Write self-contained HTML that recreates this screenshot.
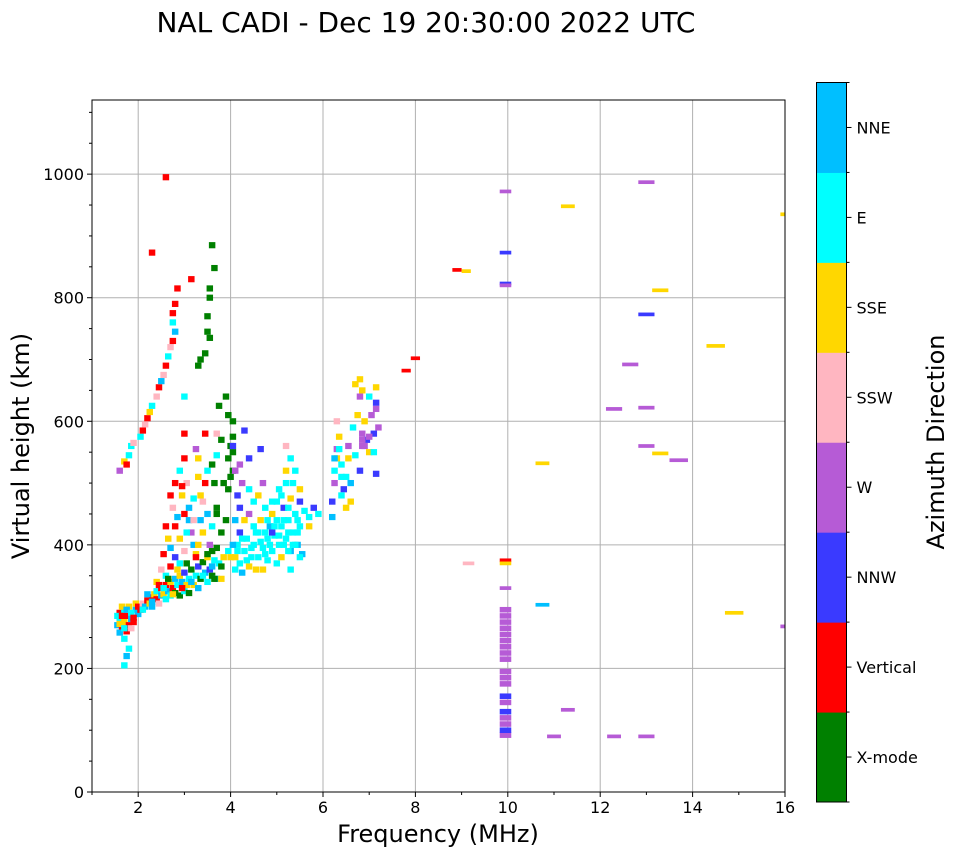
<!DOCTYPE html>
<html><head><meta charset="utf-8"><style>
body{margin:0;background:#fff;}
svg text{font-family:"DejaVu Sans","Liberation Sans",sans-serif;fill:#000;}
</style></head><body>
<svg id="c" width="958" height="857" xmlns="http://www.w3.org/2000/svg">
<text x="426" y="32" font-size="28" text-anchor="middle">NAL CADI - Dec 19 20:30:00 2022 UTC</text>
<g id="grid"></g><g id="marks"></g><g id="axes"></g><g id="cbar"></g>
<text x="438" y="842" font-size="24" text-anchor="middle">Frequency (MHz)</text>
<text transform="translate(29,446) rotate(-90)" font-size="24" text-anchor="middle">Virtual height (km)</text>
<text transform="translate(944,442) rotate(-90)" font-size="24" text-anchor="middle">Azimuth Direction</text>
</svg>
<script>
const directions=["X-mode","Vertical","NNW","W","SSW","SSE","E","NNE"];
const dirColors=["#008000","#ff0000","#3a3aff","#b65bd6","#ffb6c1","#ffd700","#00ffff","#00bfff"];
const xTicks=[2,4,6,8,10,12,14,16];
const yTicks=[0,200,400,600,800,1000];
// [frequency MHz, virtual height km, direction index, optional width MHz]
const echoes=[
[1.55,270,7],[1.6,280,6],[1.6,290,1],[1.65,265,1],[1.7,275,5],[1.7,295,6],[1.75,285,1],[1.8,270,1],[1.8,300,5],[1.85,280,7],[1.9,290,4],[1.9,275,1],[1.95,295,7],[1.65,300,5],[1.55,285,6],[1.75,260,1],[1.85,265,4],[1.6,258,7],[1.7,248,6],[1.8,232,6],[1.75,220,7],[1.7,205,6],[1.95,305,5],[2.0,300,1],[2.0,288,7],[2.05,295,1],[2.1,305,4],[2.15,300,7],[2.2,310,1],[2.25,305,5],[2.3,315,1],[2.3,300,7],[2.35,320,5],[2.4,312,1],[2.4,325,6],[2.45,305,4],[2.5,318,7],[2.5,330,1],[2.55,320,5],[2.6,335,1],[2.6,312,6],[2.65,325,7],[2.7,340,5],[2.7,318,6],[2.75,330,1],[2.8,345,7],[2.8,322,0],[2.85,335,6],[2.9,350,5],[2.9,318,0],[2.95,340,7],[3.0,325,6],[3.0,355,2],[3.05,335,5],[3.1,345,6],[3.1,322,0],[3.15,360,0],[3.2,335,5],[3.25,350,6],[3.3,330,7],[3.3,365,2],[3.35,345,0],[3.4,372,0],[3.45,355,7],[3.5,340,6],[3.5,380,5],[3.55,360,2],[3.6,350,0],[3.65,375,6],[3.7,345,7],[3.6,390,0],
[2.2,320,7],[2.4,340,5],[2.6,350,6],[2.5,360,4],[2.7,365,1],[2.8,380,2],[2.9,370,6],[3.0,390,4],[3.2,400,7],[2.45,335,1],[2.65,345,0],[2.85,360,5],[3.05,370,0],[3.25,385,5],
[1.65,285,1],[1.75,295,7],[1.85,290,6],[1.6,272,5],[1.7,265,6],[1.9,282,1],[2.1,295,6],[2.3,308,7],[2.55,330,6],[2.75,320,5],[2.95,330,1],[3.15,340,7],[3.4,350,6],[3.6,365,7],[3.75,370,6],[3.85,380,5],[3.95,390,6],[3.8,345,5],
[1.6,520,3],[1.7,535,5],[1.75,530,1],[1.8,545,6],[1.85,560,6],[1.9,565,4],[2.05,575,6],[2.1,585,1],[2.15,595,4],[2.2,605,1],[2.25,615,5],[2.3,625,6],[2.4,640,4],[2.45,655,1],[2.5,665,7],[2.55,675,4],[2.6,690,1],[2.65,705,6],[2.7,720,4],[2.75,730,1],[2.8,745,7],[2.75,760,6],[2.75,775,1],[2.8,790,1],[2.85,815,1],[2.3,873,1],[2.6,995,1],[3.15,830,1],
[2.7,480,1],[2.75,460,4],[2.8,500,1],[2.85,445,7],[2.9,520,6],[2.95,480,5],[3.0,540,1],[3.0,580,1],[3.05,500,4],[3.1,460,7],[3.15,420,3],[3.2,475,6],[3.25,555,3],[3.3,510,5],[3.35,440,7],[3.4,470,4],[3.5,520,6],[3.45,580,1],[3.55,400,3],[3.6,430,6],[2.6,430,1],[2.65,410,5],[2.7,395,7],[2.55,385,1],[3.7,580,4],[3.7,545,6],[3.0,640,6],[3.3,400,5],[3.4,420,5],[3.25,380,1],[3.1,440,7],
[2.8,430,1],[2.9,410,5],[3.0,450,1],[3.05,420,6],[3.2,440,4],[3.35,480,5],[3.5,450,7],[3.45,500,1],[2.95,495,1],[3.3,540,5],
[3.6,885,0],[3.65,848,0],[3.55,815,0],[3.55,800,0],[3.5,770,0],[3.5,745,0],[3.55,735,0],[3.35,700,0],[3.45,710,0],[3.3,690,0],[3.9,640,0],[3.75,625,0],[3.95,610,0],[4.05,600,0],[4.0,560,0],[3.8,570,0],[3.95,540,0],[4.05,520,0],[3.85,500,0],[3.95,490,0],[3.7,460,0],[3.9,440,0],[3.8,420,0],[3.6,530,0],[4.05,575,0],[4.05,550,0],[4.0,510,0],[3.65,500,0],[3.7,450,0],[3.5,385,0],[3.7,395,0],[3.8,365,0],[3.65,345,0],
[4.1,360,6],[4.1,380,5],[4.15,400,6],[4.2,370,6],[4.2,420,2],[4.25,355,7],[4.3,390,6],[4.3,440,5],[4.35,410,6],[4.4,365,5],[4.4,450,3],[4.45,380,6],[4.5,400,6],[4.5,470,6],[4.55,360,5],[4.6,420,6],[4.6,380,6],[4.65,440,5],[4.7,395,6],[4.7,360,5],[4.75,460,6],[4.8,410,6],[4.8,375,6],[4.85,430,7],[4.9,390,6],[4.9,450,5],[4.95,415,6],[5.0,370,6],[5.0,470,6],[5.05,400,6],[5.1,430,6],[5.1,380,5],[5.15,460,2],[5.2,410,6],[5.2,500,6],[5.25,440,6],[5.3,390,7],[5.3,475,5],[5.35,420,6],[5.4,450,6],[5.4,520,6],[5.45,400,7],[5.5,430,6],[5.5,470,2],[5.55,385,7],[5.6,455,6],[5.7,445,6],[5.8,460,2],[5.9,450,6],[4.4,540,2],[4.2,530,3],[4.25,500,3],[4.1,520,3],[4.3,585,2],[4.05,560,2],[4.15,480,2],[4.2,460,2],[4.1,440,7],[4.4,490,6],[4.7,500,3],[5.2,560,4],[5.5,490,5],[5.05,490,6],[4.65,555,2],[5.2,520,5],[5.3,540,6],[4.0,380,5],[4.05,400,7],[4.6,480,5],[4.9,420,2],[5.3,360,6],[5.5,380,6],[5.7,430,5],[4.5,430,6],[4.75,420,6],[5.0,440,6],[5.15,400,6],[5.4,400,6],[5.45,440,6],
[4.15,390,6],[4.25,410,6],[4.35,375,6],[4.45,395,6],[4.55,420,6],[4.65,405,6],[4.75,385,6],[4.85,400,6],[4.95,430,6],[5.05,415,6],[5.15,440,6],[5.25,420,6],[5.35,400,6],[5.45,420,6],[5.25,460,6],[5.1,480,6],[4.9,470,6],[4.8,440,6],[5.35,500,6],[5.25,390,6],
[6.2,445,7],[6.2,470,2],[6.25,500,3],[6.25,520,6],[6.3,540,5],[6.3,555,3],[6.35,575,5],[6.4,530,6],[6.45,490,2],[6.5,510,6],[6.55,560,3],[6.6,470,5],[6.65,590,6],[6.7,545,6],[6.7,660,5],[6.75,610,5],[6.8,520,2],[6.8,640,3],[6.85,580,3],[6.85,650,5],[6.9,560,3],[6.9,600,5],[6.95,570,2],[7.0,550,5],[7.05,610,3],[7.1,580,2],[7.15,630,2],[7.15,655,5],[7.15,515,2],[7.1,550,6],[7.2,590,3],[6.5,460,5],[6.3,600,4],[6.6,500,7],[6.4,480,6],[7.0,640,6],[6.8,668,5],
[6.25,540,7],[6.35,555,6],[6.55,540,5],[6.85,560,3],[6.85,570,3],[7.0,575,3],[7.15,620,3],[6.4,510,6],
[8.9,845,1,0.2],[9.1,843,5,0.2],[8.0,702,1,0.2],[7.8,682,1,0.2],[10.75,532,5,0.3],[9.15,370,4,0.25],[9.95,375,1,0.25],[9.95,370,5,0.25],[10.75,303,7,0.3],[11.3,948,5,0.3],[13.0,987,3,0.35],[9.95,972,3,0.25],[9.95,873,2,0.25],[9.95,823,2,0.25],[9.95,820,3,0.25],[13.0,773,2,0.35],[13.3,812,5,0.35],[12.65,692,3,0.35],[12.3,620,3,0.35],[13.0,622,3,0.35],[13.0,560,3,0.35],[13.3,548,5,0.35],[13.7,537,3,0.4],[14.5,722,5,0.4],[14.9,290,5,0.4],[15.95,935,5,0.1],[15.95,268,3,0.1],[11.3,133,3,0.3],[11.0,90,3,0.3],[12.3,90,3,0.3],[13.0,90,3,0.35],[9.95,330,3,0.25],
[9.95,92,3,0.25],[9.95,100,2,0.25],[9.95,110,3,0.25],[9.95,120,3,0.25],[9.95,130,2,0.25],[9.95,145,3,0.25],[9.95,155,2,0.25],[9.95,175,3,0.25],[9.95,185,3,0.25],[9.95,195,3,0.25],[9.95,215,3,0.25],[9.95,225,3,0.25],[9.95,235,3,0.25],[9.95,245,3,0.25],[9.95,255,3,0.25],[9.95,265,3,0.25],[9.95,275,3,0.25],[9.95,285,3,0.25],[9.95,295,3,0.25]
];
const NS="http://www.w3.org/2000/svg";
const L=92,R=785,T=100,B=792;
const xS=f=>L+(f-1)*(R-L)/15;
const yS=h=>B-h*(B-T)/1120;
function mk(tag,attrs,parent){const e=document.createElementNS(NS,tag);for(const k in attrs)e.setAttribute(k,attrs[k]);parent.appendChild(e);return e;}
const grid=document.getElementById('grid'),marks=document.getElementById('marks'),axes=document.getElementById('axes'),cbar=document.getElementById('cbar');
xTicks.forEach(v=>{const g=mk('line',{x1:xS(v),x2:xS(v),y1:T,y2:B,stroke:'#b0b0b0','stroke-width':1},grid);

});
yTicks.forEach(v=>{const g=mk('line',{x1:L,x2:R,y1:yS(v),y2:yS(v),stroke:'#b0b0b0','stroke-width':1},grid);

});
echoes.forEach(p=>{const w=p[3]||0.14;const hh=p[3]?(p[0]===9.95&&p[1]<300?9:6):10;const r=mk('rect',{x:xS(p[0]-w/2),y:yS(p[1]+hh/2),width:(R-L)/15*w,height:yS(0)-yS(hh),fill:dirColors[p[2]]},marks);

});
const fr=mk('rect',{x:L,y:T,width:R-L,height:B-T,fill:'none',stroke:'#000','stroke-width':1},axes);


xTicks.forEach(v=>{mk('line',{x1:xS(v),x2:xS(v),y1:B,y2:B+5,stroke:'#000'},axes);
const t=mk('text',{x:xS(v),y:B+21,'font-size':16,'text-anchor':'middle'},axes);t.textContent=v;

});
for(let v=1;v<=15;v+=2)mk('line',{x1:xS(v),x2:xS(v),y1:B,y2:B+3,stroke:'#000'},axes);
yTicks.forEach(v=>{mk('line',{x1:L-5,x2:L,y1:yS(v),y2:yS(v),stroke:'#000'},axes);
const t=mk('text',{x:L-8,y:yS(v)+6,'font-size':16,'text-anchor':'end'},axes);t.textContent=v;

});
for(let v=50;v<=1100;v+=50)if(v%200)mk('line',{x1:L-3,x2:L,y1:yS(v),y2:yS(v),stroke:'#000'},axes);
const CT=82.5,CB=802,CL=816.5,CW=30,seg=(CB-CT)/directions.length;
directions.forEach((d,i)=>{const y0=CB-(i+1)*seg;
const r=mk('rect',{x:CL,y:y0,width:CW,height:seg+0.5,fill:dirColors[i]},cbar);


mk('line',{x1:CL+CW,x2:CL+CW+5,y1:y0+seg/2,y2:y0+seg/2,stroke:'#000'},cbar);
mk('line',{x1:CL+CW,x2:CL+CW+3,y1:y0,y2:y0,stroke:'#000'},cbar);
const t=mk('text',{x:CL+CW+10,y:y0+seg/2+6,'font-size':16},cbar);t.textContent=d;

});
mk('line',{x1:CL+CW,x2:CL+CW+3,y1:CB,y2:CB,stroke:'#000'},cbar);
const cf=mk('rect',{x:CL,y:CT,width:CW,height:CB-CT,fill:'none',stroke:'#000'},cbar);


</script>
</body></html>
